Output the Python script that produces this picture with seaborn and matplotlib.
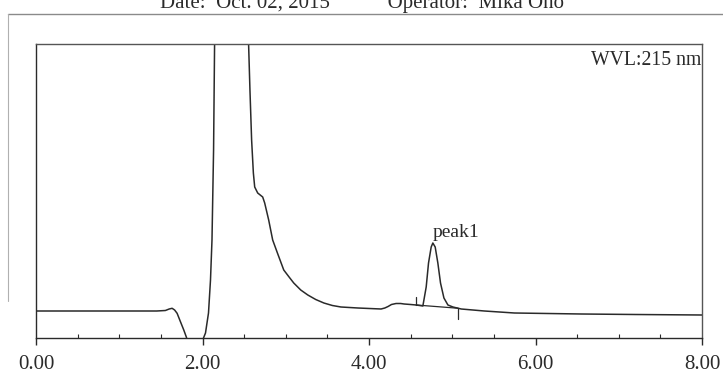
import numpy as np
import matplotlib
matplotlib.use("Agg")
import matplotlib.pyplot as plt
import seaborn as sns
from matplotlib.lines import Line2D

# ---- data (retention time in min, detector signal in arbitrary units) ----
time_min = [0.00, 0.50, 1.00, 1.45, 1.554, 1.60, 1.635, 1.665, 1.695, 1.735, 1.775, 1.807,
            1.85, 1.95, 2.012, 2.036, 2.072, 2.096, 2.114, 2.133, 2.145, 2.16, 2.25, 2.40,
            2.50, 2.554, 2.570, 2.590, 2.611, 2.627, 2.663, 2.723, 2.747, 2.795, 2.843,
            2.90, 2.976, 3.04, 3.096, 3.18, 3.265, 3.36, 3.458, 3.56, 3.663, 3.867, 4.06,
            4.145, 4.19, 4.229, 4.27, 4.325, 4.38, 4.422, 4.50,
            4.566, 4.647, 4.687, 4.715, 4.747, 4.767, 4.795, 4.827, 4.859, 4.900, 4.948,
            5.008, 5.108, 5.386, 5.747, 6.55, 7.20, 8.00]
signal = [27, 27, 27, 27, 27.5, 29, 29.7, 28, 24.7, 16.3, 8, 0.7,
          -15, -15, 0, 5, 25, 58, 98, 188, 293, 450, 1100, 1300,
          800, 293, 248, 198, 165, 151, 145, 141, 135, 118, 98,
          85, 68, 61, 55, 48, 43, 38.5, 35, 32.5, 31, 30, 29.3,
          29, 30, 31.5, 33.5, 34.5, 34.5, 34, 33.5,
          33, 32, 51, 75, 91, 95, 91, 75, 55, 40, 33,
          31, 29, 27, 25, 24, 23.5, 23]

peak_name = "peak1"
peak_apex = 4.767
peak_start = 4.566
peak_end = 5.07

x_ticks = [0, 2, 4, 6, 8]
x_tick_labels = ["0.00", "2.00", "4.00", "6.00", "8.00"]
wavelength_label = "WVL:215 nm"
header_text = "Date:  Oct. 02, 2015           Operator:  Mika Ono"

# ---- style ----
sns.set_style("white")
plt.rcParams["font.family"] = ["Liberation Serif", "DejaVu Serif"]

W, H = 723, 376
fig = plt.figure(figsize=(W / 100, H / 100), dpi=100)
ax = fig.add_axes([36 / W, 1 - 338 / H, 666 / W, 294 / H])

ink = "#2a2a2a"
sns.lineplot(x=time_min, y=signal, ax=ax, color=ink, linewidth=1.1, sort=False,
             estimator=None)

# integration baseline and markers for the named peak
t_arr = np.array(time_min)
s_arr = np.array(signal)
ys = np.interp(peak_start, t_arr, s_arr)
ye = np.interp(peak_end, t_arr, s_arr)
ax.plot([peak_start, peak_end], [ys, ye], color=ink, linewidth=0.9)
ax.plot([peak_start, peak_start], [ys, ys + 8], color=ink, linewidth=0.9)
ax.plot([peak_end, peak_end], [ye, ye - 11], color=ink, linewidth=0.9)

apex_y = np.interp(peak_apex, t_arr, s_arr)
ax.text(peak_apex, apex_y + 2, peak_name, ha="left", va="bottom",
        fontsize=14, color=ink)

ax.text(0.999, 0.975, wavelength_label, transform=ax.transAxes, ha="right", va="top",
        fontsize=14.2, color=ink)

ax.set_xlim(0, 8)
ax.set_ylim(0, 294)
ax.set_xticks(x_ticks)
ax.set_xticklabels(x_tick_labels, fontsize=15, color=ink)
ax.set_xticks(np.arange(0, 8.01, 0.5), minor=True)
ax.set_yticks([])
ax.tick_params(axis="x", which="major", direction="out", length=5, width=1,
               pad=7, color=ink, bottom=True)
ax.tick_params(axis="x", which="minor", direction="in", length=3, width=0.8,
               color=ink, bottom=True)
ax.set_xlabel("")
ax.set_ylabel("")
for sp in ax.spines.values():
    sp.set_visible(True)
    sp.set_color("#555555")
    sp.set_linewidth(1.0)
ax.spines["bottom"].set_color(ink)
ax.spines["left"].set_color(ink)

# scanned page frame and cut-off header
fig.add_artist(Line2D([8 / W, 1.0], [1 - 14 / H, 1 - 14 / H], transform=fig.transFigure,
                      color="#8a8a8a", linewidth=1.0))
fig.add_artist(Line2D([8 / W, 8 / W], [1 - 14 / H, 0.2], transform=fig.transFigure,
                      color="#b0b0b0", linewidth=0.8))
fig.text(160 / W, 1 - 8 / H, header_text, ha="left", va="baseline",
         fontsize=15, color=ink)

fig.savefig("out.png", dpi=100)
